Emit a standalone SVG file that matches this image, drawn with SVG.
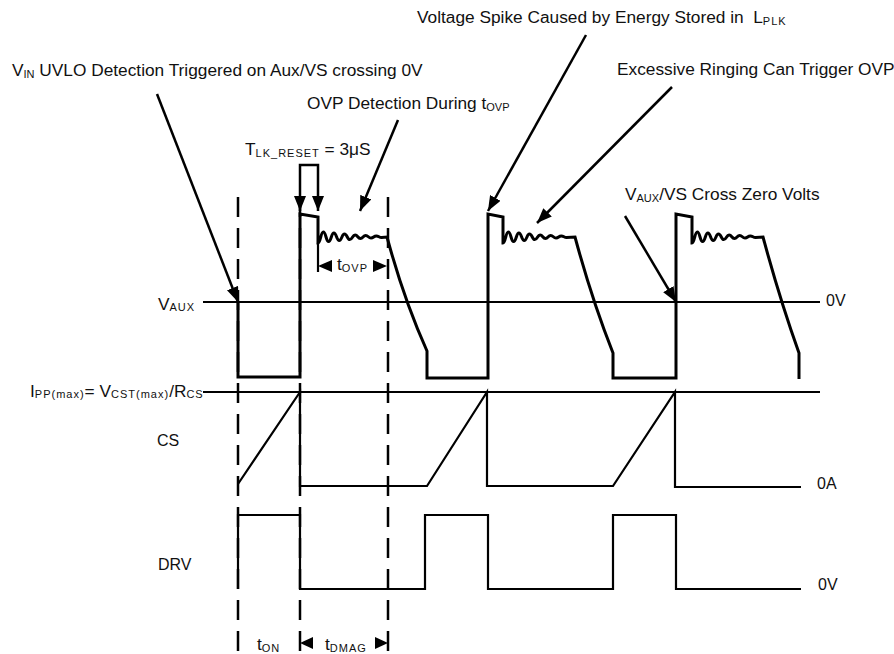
<svg xmlns="http://www.w3.org/2000/svg" width="894" height="654" viewBox="0 0 894 654">
<style>
text{font-family:"Liberation Sans",Arial,sans-serif;fill:#111;}
.t{font-size:17.3px;}
.l{font-size:16px;}
.s{font-size:11px;}
.wave{fill:none;stroke:#000;stroke-width:3;stroke-linejoin:miter;}
.thin{fill:none;stroke:#000;stroke-width:2.2;}
.ref{fill:none;stroke:#000;stroke-width:2.2;}
.dash{fill:none;stroke:#000;stroke-width:2.5;stroke-dasharray:20 11;}
.ann{fill:none;stroke:#000;stroke-width:2.5;marker-end:url(#ah);}
.head{fill:#000;}
</style>
<defs>
<marker id="ah" markerUnits="userSpaceOnUse" markerWidth="16" markerHeight="12" refX="15" refY="6" orient="auto-start-reverse" viewBox="0 0 16 12">
<path d="M0,0 L15,6 L0,12 z" fill="#000"/>
</marker>
</defs>
<rect width="894" height="654" fill="#fff"/>

<g id="reference-lines">
<path class="ref" d="M203,302 H820"/>
<path class="ref" d="M203,392 H820"/>
</g>

<g id="dashed-markers">
<path class="dash" d="M238,197 V654"/>
<path class="dash" d="M300,197 V654"/>
<path class="dash" d="M388,197 V654"/>
</g>

<g id="vaux-waveform">
<path class="wave" d="M238,302 L238,377 L300,377 L300,214 L318,217 L318,243 c2.65,0 2.65,-11 5.3,-11 c2.65,0 2.65,9.5 5.3,9.5 c2.65,0 2.65,-8.5 5.3,-8.5 c2.65,0 2.65,7.5 5.3,7.5 c2.65,0 2.65,-6.5 5.3,-6.5 c2.65,0 2.65,5.5 5.3,5.5 c2.65,0 2.65,-4.5 5.3,-4.5 c2.65,0 2.65,3.5 5.3,3.5 c2.65,0 2.65,-3 5.3,-3 c2.65,0 2.65,2.5 5.3,2.5 c2.65,0 2.65,-2 5.3,-2 c2.65,0 2.65,1.5 5.3,1.5 L387,237 Q404,300 427,351 L427,378 L488,378 L488,214 L503,217 L503,243 c2.65,0 2.65,-11 5.3,-11 c2.65,0 2.65,9.5 5.3,9.5 c2.65,0 2.65,-8.5 5.3,-8.5 c2.65,0 2.65,7.5 5.3,7.5 c2.65,0 2.65,-6.5 5.3,-6.5 c2.65,0 2.65,5.5 5.3,5.5 c2.65,0 2.65,-4.5 5.3,-4.5 c2.65,0 2.65,3.5 5.3,3.5 c2.65,0 2.65,-3 5.3,-3 c2.65,0 2.65,2.5 5.3,2.5 c2.65,0 2.65,-2 5.3,-2 c2.65,0 2.65,1.5 5.3,1.5 L575,237 Q592,300 613,353 L613,378 L676,378 L676,214 L692,217 L692,243 c2.65,0 2.65,-11 5.3,-11 c2.65,0 2.65,9.5 5.3,9.5 c2.65,0 2.65,-8.5 5.3,-8.5 c2.65,0 2.65,7.5 5.3,7.5 c2.65,0 2.65,-6.5 5.3,-6.5 c2.65,0 2.65,5.5 5.3,5.5 c2.65,0 2.65,-4.5 5.3,-4.5 c2.65,0 2.65,3.5 5.3,3.5 c2.65,0 2.65,-3 5.3,-3 c2.65,0 2.65,2.5 5.3,2.5 c2.65,0 2.65,-2 5.3,-2 c2.65,0 2.65,1.5 5.3,1.5 L763,237 Q780,300 799,353 L799,379"/>
</g>

<g id="cs-waveform">
<path class="thin" d="M238,484 L300,392 L300,486 L427,486 L487,392 L487,486 L613,486 L675,392 L675,487 L801,487"/>
</g>

<g id="drv-waveform">
<path class="thin" d="M238,589 L238,515 L300,515 L300,589 L425,589 L425,515 L488,515 L488,589 L613,589 L613,515 L676,515 L676,589 L801,589"/>
</g>

<g id="connectors">
<path class="ann" d="M157,94 L238,302"/>
<path class="ann" d="M398,120 L360,211"/>
<path class="ann" d="M586,35 L488,211"/>
<path class="ann" d="M672,87 L537,223"/>
<path class="ann" d="M625,216 L676,302"/>
<path class="ann" style="marker-start:url(#ah)" d="M300,211 L300,165 L318,165 L318,211"/>
<path class="thin" d="M318,243 V272"/>
<polygon class="head" points="318,266 332,260 332,272"/>
<polygon class="head" points="387,266 373,260 373,272"/>
<polygon class="head" points="300,643 313,637 313,649"/>
<polygon class="head" points="388,643 375,637 375,649"/>
</g>

<g id="labels">
<text class="t" x="12" y="76">V<tspan class="s" dy="2">IN</tspan><tspan dy="-2"> UVLO Detection Triggered on Aux/VS crossing 0V</tspan></text>
<text class="t" x="307" y="109">OVP Detection During t<tspan class="s" dy="2">OVP</tspan></text>
<text class="t" x="245" y="155">T<tspan class="s" dy="2" letter-spacing="1">LK_RESET</tspan><tspan dy="-2"> = 3μS</tspan></text>
<text class="t" x="417" y="23">Voltage Spike Caused by Energy Stored in&#160; L<tspan class="s" dy="2" letter-spacing="1">PLK</tspan></text>
<text class="t" x="617" y="75">Excessive Ringing Can Trigger OVP</text>
<text class="t" x="625" y="200">V<tspan class="s" dy="2">AUX</tspan><tspan dy="-2">/VS Cross Zero Volts</tspan></text>
<text class="t" x="158" y="310">V<tspan class="s" dy="1" letter-spacing="1">AUX</tspan></text>
<text class="l" x="826" y="306">0V</text>
<text class="t" x="30" y="397">I<tspan class="s" dy="1" letter-spacing="1">PP(max)</tspan><tspan dy="-1">= V</tspan><tspan class="s" dy="1" letter-spacing="1">CST(max)</tspan><tspan dy="-1">/R</tspan><tspan class="s" dy="1" letter-spacing="1">CS</tspan></text>
<text class="l" x="157" y="446">CS</text>
<text class="l" x="817" y="489">0A</text>
<text class="l" x="158" y="570">DRV</text>
<text class="l" x="818" y="590">0V</text>
<text class="t" x="337" y="270">t<tspan class="s" dy="2" letter-spacing="1">OVP</tspan></text>
<text class="t" x="257" y="650">t<tspan class="s" dy="2" letter-spacing="1">ON</tspan></text>
<text class="t" x="325" y="650">t<tspan class="s" dy="2" letter-spacing="1">DMAG</tspan></text>
</g>
</svg>
